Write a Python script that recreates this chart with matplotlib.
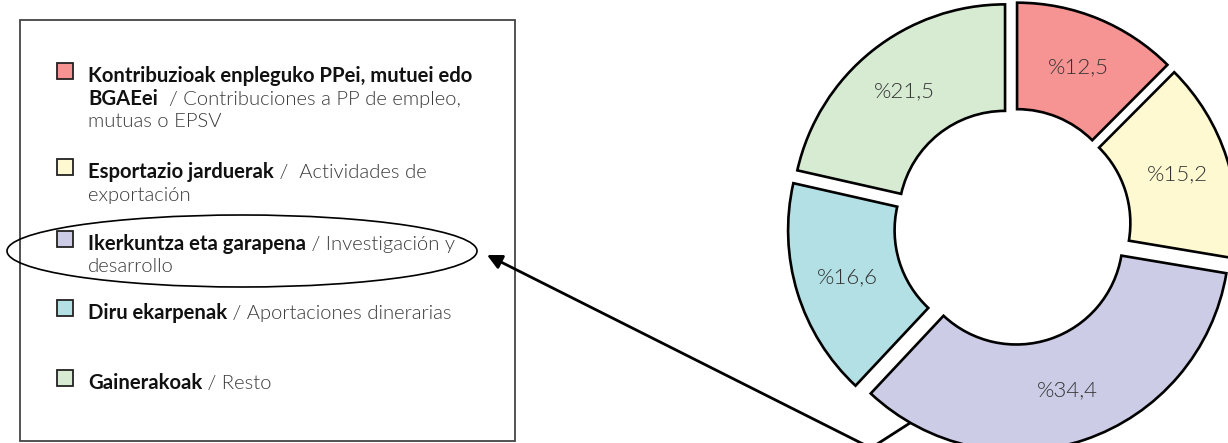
import matplotlib
matplotlib.use('Agg')
import matplotlib.pyplot as plt
from matplotlib.patches import Rectangle, Ellipse

# ---------------- data ----------------
basque = ["Kontribuzioak enpleguko PPei, mutuei edo\nBGAEei",
          "Esportazio jarduerak",
          "Ikerkuntza eta garapena",
          "Diru ekarpenak",
          "Gainerakoak"]
spanish = ["  / Contribuciones a PP de empleo,\nmutuas o EPSV",
           " /  Actividades de\nexportación",
           " / Investigación y\ndesarrollo",
           " / Aportaciones dinerarias",
           " / Resto"]
values = [12.5, 15.2, 34.4, 16.6, 21.5]
value_labels = ["%12,5", "%15,2", "%34,4", "%16,6", "%21,5"]
colors = ["#F69494", "#FEF9D1", "#CCCCE7", "#B2E0E5", "#D7EBD3"]

# ---------------- layout ----------------
W, H = 1228, 443
fig = plt.figure(figsize=(W / 100, H / 100), dpi=100)
FAM = ['Lato', 'DejaVu Sans']

R_px = 213.0
cx, cy = 1012.5, 226.7
lim = 1.2
size = 2 * lim * R_px
ax = fig.add_axes([(cx - size / 2) / W, (H - cy - size / 2) / H, size / W, size / H])
wedges, texts = ax.pie(values, startangle=90, counterclock=False, colors=colors,
                       explode=[0.056] * len(values), radius=1,
                       labels=value_labels, labeldistance=0.755,
                       wedgeprops=dict(width=0.5, edgecolor='black', linewidth=1.9),
                       textprops=dict(fontsize=16, color='#333333', family=FAM,
                                      fontweight=300))
for t in texts:
    t.set_ha('center')
    t.set_va('center')
ax.set_xlim(-lim, lim)
ax.set_ylim(-lim, lim)
ax.set_aspect('equal')
ax.axis('off')

# overlay in pixel coordinates
ov = fig.add_axes([0, 0, 1, 1])
ov.set_xlim(0, W)
ov.set_ylim(H, 0)
ov.axis('off')
ov.patch.set_visible(False)

ov.add_patch(Rectangle((20, 20), 495, 421, fill=False, ec='#444444', lw=1.3))

baselines = [82, 178, 250, 319, 389]
LS = 22.5
TX = 88
FS = 14.6
fig.canvas.draw()
rend = fig.canvas.get_renderer()
for i, (b, s) in enumerate(zip(basque, spanish)):
    y = baselines[i]
    ov.add_patch(Rectangle((57, y - 19), 16, 16, fc=colors[i], ec='#222222', lw=1.3))
    blines = b.split('\n')
    slines = s.split('\n')
    t = None
    for j, bl in enumerate(blines):
        t = ov.text(TX, y + j * LS, bl, fontsize=FS, fontweight='bold',
                    color='#111111', family=FAM, va='baseline', ha='left')
    ylast = y + (len(blines) - 1) * LS
    bb = t.get_window_extent(renderer=rend)
    ov.text(bb.x1, ylast, slines[0], fontsize=FS, fontweight=300,
            color='#3a3a3a', family=FAM, va='baseline', ha='left')
    for k, sl in enumerate(slines[1:]):
        ov.text(TX, ylast + (k + 1) * LS, sl, fontsize=FS, fontweight=300,
                color='#3a3a3a', family=FAM, va='baseline', ha='left')

ov.add_patch(Ellipse((242, 251), 470, 72, fill=False, ec='black', lw=1.2))

ov.plot([910, 871], [423, 448], color='black', lw=2, solid_capstyle='butt', clip_on=False)
ov.annotate('', xy=(487, 255), xytext=(871, 448), xycoords='data', textcoords='data',
            arrowprops=dict(arrowstyle='-|>', lw=2, color='black', mutation_scale=22,
                            shrinkA=0, shrinkB=0), annotation_clip=False)

fig.savefig('out.png', dpi=100)
